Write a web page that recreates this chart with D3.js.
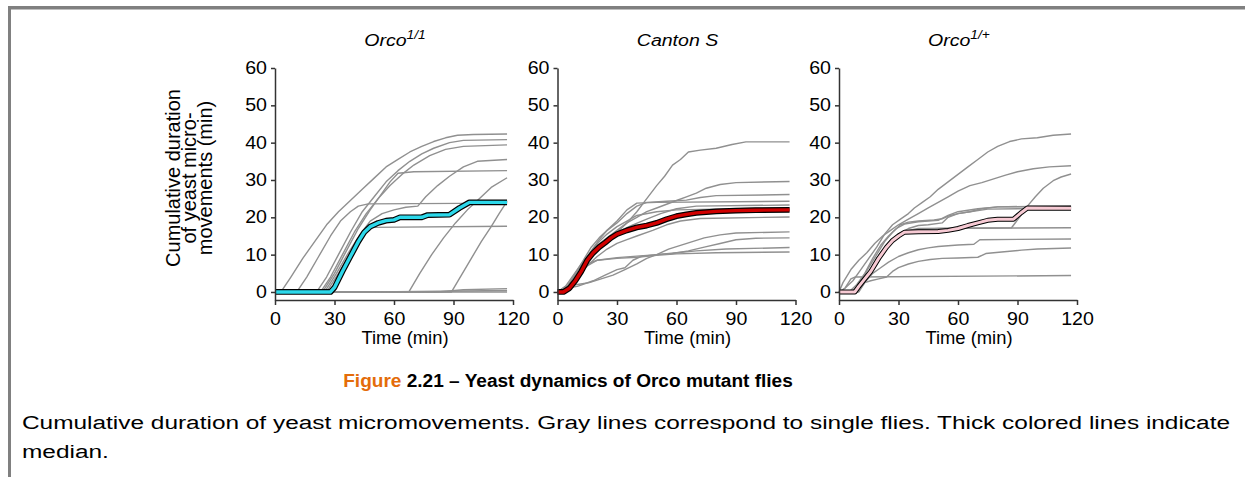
<!DOCTYPE html>
<html><head><meta charset="utf-8">
<script src="https://cdn.jsdelivr.net/npm/d3@7"></script>
<style>
body{margin:0;background:#fff}
svg{display:block}
text{font-family:"Liberation Sans",Arial,Helvetica,sans-serif}
</style>
</head><body>
<svg id="c" width="1245" height="477"></svg>
<script>
// ---------------- data ----------------
const timeTicks = [0, 30, 60, 90, 120];
const valueTicks = [0, 10, 20, 30, 40, 50, 60];
const panelNames = ["Orco", "Canton S", "Orco"];
const panelSups = ["1/1", "", "1/+"];
const xLabel = "Time (min)";
const yLabelLines = ["Cumulative duration", "of yeast micro-", "movements (min)"];
const figLabel = "Figure";
const figTitle = " 2.21 \u2013 Yeast dynamics of Orco mutant flies";
const captionLines = ["Cumulative duration of yeast micromovements. Gray lines correspond to single flies. Thick colored lines indicate", "median."];

const orco11Flies = [
  [[0,0],[3,0],[8,4],[14,9],[20,13.5],[26,18],[32,21.5],[38,24.5],[44,27.5],[50,30.5],[56,33.5],[62,35.5],[68,37.5],[74,39],[80,40.3],[86,41.3],[92,42],[100,42.2],[117,42.3]],
  [[0,0],[11,0],[16,4],[22,9.5],[28,15],[33,19],[38,21.5],[42,23],[47,23.6],[117,23.8]],
  [[0,0],[21,0],[26,4],[32,10],[38,16],[44,21.5],[50,25.5],[56,29.5],[62,32.5],[68,35],[74,37],[80,38.5],[88,40],[95,40.6],[117,40.8]],
  [[0,0],[23,0],[28,4],[34,10],[40,16],[46,21],[52,25],[58,28.5],[64,31.5],[70,34],[78,36.5],[86,38.2],[95,39],[117,39.4]],
  [[0,0],[24,0],[30,5],[36,11],[42,17],[48,22],[54,26.5],[58,29.5],[62,31.8],[70,32.2],[117,32.5]],
  [[0,0],[25,0],[31,5],[37,10.5],[43,15.5],[48,19],[54,21],[60,22],[66,22.7],[72,23],[76,25.5],[82,28.5],[88,31],[95,33.5],[102,35],[117,35.5]],
  [[0,0],[67.5,0],[73,5],[79,10],[85,14.5],[91,18.5],[97,22],[103,25],[109,28],[117,30.6]],
  [[0,0],[89,0],[94,4.5],[99,9],[104,13.5],[109,17.5],[113,21],[117,24.3]],
  [[0,0],[26,0],[32,5],[38,10],[44,15],[48,17.3],[117,17.6]],
  [[0,0],[117,0]],
  [[0,0],[82,0],[95,0.6],[117,0.9]],
  [[0,0],[50,0],[117,0.4]]
];
const orco11Median = [[0,0],[28,0],[30,1.2],[34,5.5],[38,9.5],[42,13.5],[45,16],[48,17.5],[52,18.5],[56,19.1],[60,19.3],[63,20],[74,20],[77,20.6],[88,20.7],[93,22.5],[98,24],[117,24]];

const cantonFlies = [
  [[0,0],[4,1],[8,3.5],[12,6.5],[16,9],[20,11],[25,13.5],[30,16],[35,18.5],[40,21.5],[45,25],[50,28.5],[54,31],[58,34],[62,35.5],[66,37.5],[72,38],[80,38.5],[88,39.5],[95,40.2],[117,40.2]],
  [[0,0],[4,1.5],[8,4.5],[12,7.5],[16,10],[20,12.5],[25,14.5],[30,16.5],[35,18.5],[40,20],[45,21.5],[50,22.5],[55,23.5],[60,24.5],[65,25.5],[70,26.5],[75,27.8],[82,28.8],[90,29.3],[117,29.6]],
  [[0,0],[5,1],[9,4.5],[13,8],[17,11],[21,14],[25,16.5],[30,18.5],[35,21],[40,23],[45,24],[55,24.3],[65,24.6],[72,25.3],[80,25.8],[117,26.1]],
  [[0,0],[5,1.5],[9,5],[13,8.5],[17,12],[21,14.5],[25,16.5],[30,19],[35,22],[40,23.8],[50,24],[117,24.3]],
  [[0,0],[6,1],[10,4],[14,7.5],[18,10.5],[22,13],[27,15],[32,16.5],[38,18],[45,19.5],[52,21],[60,22.3],[70,23],[117,23.3]],
  [[0,0],[6,1.5],[10,4],[15,7],[20,9.5],[25,11.5],[30,13],[35,14],[40,15],[48,16.5],[55,18],[62,19],[72,19.7],[117,20.1]],
  [[0,0],[4,1.5],[10,2],[16,2.5],[22,3.5],[28,4.5],[34,6],[40,7.5],[45,9],[50,10],[56,11.5],[62,12.5],[68,13.5],[74,14.5],[82,15.3],[90,15.8],[117,16.1]],
  [[0,0],[4,1],[10,1.5],[18,3],[24,4.5],[30,6],[34,6.5],[38,8.5],[42,9.5],[50,10],[58,10.3],[66,11],[74,12],[82,13],[90,14],[100,14.4],[117,14.5]],
  [[0,0],[5,1],[10,4.5],[15,7],[20,8.5],[30,9.2],[40,9.6],[50,10],[60,10.5],[70,11],[85,11.5],[117,11.9]],
  [[0,0],[5,1.5],[10,5],[15,7.5],[20,8.5],[30,9],[40,9.3],[50,9.8],[60,10.2],[80,10.5],[117,10.7]],
  [[0,0],[4,0.5],[8,3],[12,6.5],[16,10],[20,13],[25,15.5],[30,17.5],[35,19],[40,20.5],[50,21.5],[60,22],[117,22.6]]
];
const cantonMedian = [[0,0],[3,0],[6,1],[9,3],[12,5.5],[15,8.5],[18,10.5],[21,12],[24,13.2],[27,14.5],[30,15.5],[35,16.5],[40,17.3],[45,17.8],[50,18.5],[55,19.5],[60,20.3],[65,20.8],[70,21.2],[80,21.6],[90,21.8],[100,21.9],[117,22]];

const orco1pFlies = [
  [[0,0],[3,1],[7,3],[11,6],[15,9],[19,12],[23,15.5],[27,18],[31,19.5],[35,21],[38,22.5],[42,24],[46,25.5],[50,27.5],[55,29.5],[60,31.5],[65,33.5],[70,35.5],[75,37.5],[80,39],[86,40.3],[92,41],[100,41.3],[108,42],[117,42.3]],
  [[0,0],[2,2.5],[6,6],[10,8.5],[14,10.5],[18,13],[22,15],[26,16.5],[30,18],[35,19.5],[40,21],[45,22.5],[50,24],[55,25.5],[60,27],[66,28.5],[72,29.3],[78,30.3],[84,31.3],[90,32.2],[98,33],[106,33.5],[117,33.8]],
  [[0,0],[8,0],[12,2.5],[16,6],[20,9.5],[25,13],[30,15.3],[35,16.3],[40,16.7],[50,17],[87,17.2],[91,20],[95,23],[99,25.5],[103,27.8],[108,29.8],[112,30.8],[117,31.6]],
  [[0,0],[6,0],[10,2],[14,4.5],[18,7.5],[22,10.5],[26,13],[30,15],[35,16.5],[40,17],[117,17.2]],
  [[0,0],[7,0],[11,3],[15,6.5],[19,10],[23,13.5],[27,16],[31,18],[35,18.7],[40,19],[48,19.3],[52,19.6],[56,20.5],[60,21],[66,21.5],[72,22.3],[80,22.8],[117,23.1]],
  [[0,0],[9,0],[13,3],[17,7],[21,10.5],[25,13],[30,15.5],[35,17],[40,17.8],[45,18],[52,18.5],[55,20],[60,21],[66,21.5],[75,22.2],[117,22.5]],
  [[0,0],[9,0],[13,2.5],[17,5],[21,6.5],[25,8],[30,9.5],[35,10.5],[40,11.3],[45,11.8],[50,12.2],[60,12.6],[68,12.8],[71,14],[117,14.2]],
  [[0,0],[10,0],[13,2.5],[16,3],[20,3.5],[24,4],[27,5.5],[30,6.5],[35,7.5],[40,8.2],[46,8.7],[52,9],[60,9.1],[70,9.3],[74,10.3],[82,10.7],[92,11.2],[100,11.5],[117,11.8]],
  [[0,0],[3,1],[6,3.5],[8,4],[117,4.4]],
  [[0,0],[5,0],[9,2],[13,5],[17,9],[21,12.5],[25,15],[29,17],[33,18.2],[40,18.8],[50,19.2],[55,20.5],[60,21.5],[70,22.3],[80,22.8],[117,22.8]]
];
const orco1pMedian = [[0,0],[8,0],[10,1.5],[13,3.5],[16,5.5],[20,9],[24,12],[27,13.8],[30,15],[33,16],[40,16.1],[50,16.2],[55,16.5],[60,17],[65,17.8],[70,18.5],[75,19.2],[80,19.5],[88,19.5],[92,21.3],[95,22.5],[117,22.4]];

const medianColors = ["#2CD8EA", "#D10000", "#F7CAD4"];

// ---------------- drawing ----------------
const svg = d3.select("#c");
const FONT = '"Liberation Sans",Arial,Helvetica,sans-serif';
const STRETCH = 1.12;

// page frame
svg.append("rect").attr("x", 8).attr("y", 6).attr("width", 1237).attr("height", 3.5).attr("fill", "#808080");
svg.append("rect").attr("x", 8).attr("y", 6).attr("width", 3).attr("height", 471).attr("fill", "#808080");

const panels = [
  {flies: orco11Flies, median: orco11Median, x0: 275},
  {flies: cantonFlies, median: cantonMedian, x0: 557.5},
  {flies: orco1pFlies, median: orco1pMedian, x0: 839}
];
const PW = 238;
const y = d3.scaleLinear().domain([-2.15, 60]).range([300, 68]);

function stretchText(sel, f) {
  sel.each(function () {
    const w = this.getComputedTextLength();
    d3.select(this).attr("textLength", w * f).attr("lengthAdjust", "spacingAndGlyphs");
  });
}

panels.forEach((p, i) => {
  const x = d3.scaleLinear().domain([0, 120]).range([p.x0, p.x0 + PW]);
  const g = svg.append("g");
  const line = d3.line().x(d => x(d[0])).y(d => y(d[1]));

  // gray single-fly lines
  g.append("g").selectAll("path").data(p.flies).join("path")
    .attr("d", line).attr("fill", "none")
    .attr("stroke", "#909090").attr("stroke-width", 1.4)
    .attr("stroke-linejoin", "round");

  // median: black outline + colored core
  const ow = i === 2 ? 5 : 5.8;
  const cw = i === 2 ? 3 : 3.4;
  g.append("path").datum(p.median).attr("d", line).attr("fill", "none")
    .attr("stroke", "#000").attr("stroke-width", ow).attr("stroke-linejoin", "round");
  g.append("path").datum(p.median).attr("d", line).attr("fill", "none")
    .attr("stroke", medianColors[i]).attr("stroke-width", cw).attr("stroke-linejoin", "round");

  // axes
  const ya = g.append("g").attr("transform", `translate(${p.x0},0)`)
    .call(d3.axisLeft(y).tickValues(valueTicks).tickSize(4).tickSizeOuter(0).tickPadding(4));
  const xa = g.append("g").attr("transform", "translate(0,300)")
    .call(d3.axisBottom(x).tickValues(timeTicks).tickSize(5).tickSizeOuter(0).tickPadding(8));
  [ya, xa].forEach(a => {
    a.select(".domain").attr("stroke", "#333").attr("stroke-width", 1.5);
    a.selectAll(".tick line").attr("stroke", "#333").attr("stroke-width", 1.5);
    a.selectAll(".tick text").attr("font-size", 17.5).attr("font-family", FONT).attr("fill", "#000");
    stretchText(a.selectAll(".tick text"), STRETCH);
  });

  // x label
  const xl = g.append("text").attr("x", p.x0 + 130).attr("y", 344)
    .attr("text-anchor", "middle").attr("font-size", 17.5).attr("fill", "#000").text(xLabel);
  stretchText(xl, 1.05);

  // title
  const tg = g.append("g").attr("transform", `translate(${p.x0 + 120},46) scale(1.15,1)`);
  const tt = tg.append("text").attr("text-anchor", "middle").attr("font-size", 17)
    .attr("font-style", "italic").attr("fill", "#000");
  tt.append("tspan").text(panelNames[i]);
  if (panelSups[i]) {
    tt.append("tspan").attr("font-size", 12).attr("dy", -7).text(panelSups[i]);
  }
});

// y-axis label (three lines, rotated)
const yl = svg.append("g").attr("transform", "translate(0,178) rotate(-90)");
yLabelLines.forEach((s, k) => {
  yl.append("text").attr("x", 0).attr("y", 180 + k * 15.8)
    .attr("text-anchor", "middle").attr("font-size", 20).attr("fill", "#000").text(s);
});

// figure title
const ft = svg.append("text").attr("x", 566).attr("y", 387).attr("text-anchor", "middle")
  .attr("font-size", 19).attr("font-weight", "bold").attr("fill", "#000");
ft.append("tspan").attr("fill", "#E46C0A").text(figLabel);
ft.append("tspan").text(figTitle);
{
  const w = ft.node().getComputedTextLength();
  const s = 450 / w;
  ft.attr("x", 0).attr("y", 0).attr("transform", `translate(568,387) scale(${s},1)`);
}

// caption body
const c1 = svg.append("text").attr("x", 22).attr("y", 429).attr("font-size", 18).attr("fill", "#000").text(captionLines[0]);
const nat = c1.node().getComputedTextLength();
const cf = 1208 / nat;
c1.attr("textLength", 1208).attr("lengthAdjust", "spacingAndGlyphs");
const c2 = svg.append("text").attr("x", 22).attr("y", 458).attr("font-size", 18).attr("fill", "#000").text(captionLines[1]);
stretchText(c2, cf);
</script>
</body></html>
